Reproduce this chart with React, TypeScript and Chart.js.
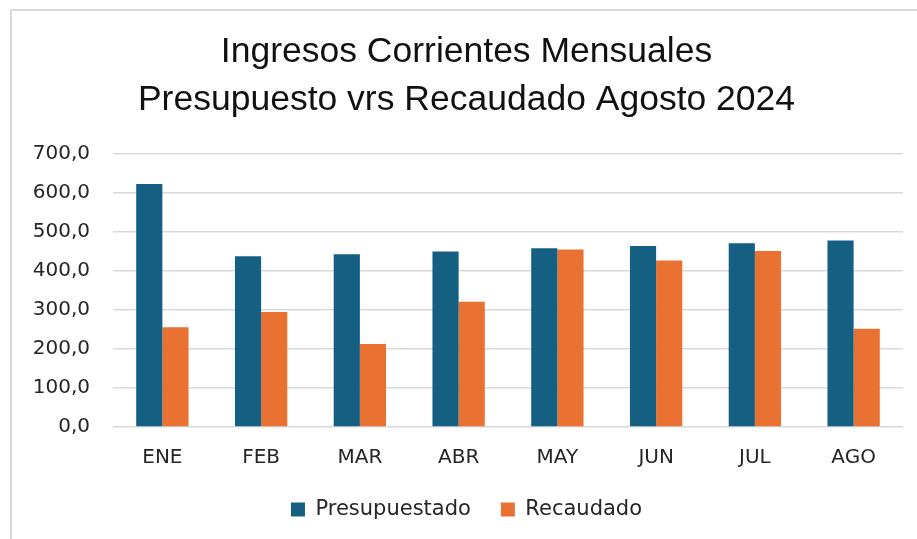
import React, { useEffect, useRef } from "react";
import { Chart, registerables } from "chart.js";

Chart.register(...registerables);

const categories = ["ENE", "FEB", "MAR", "ABR", "MAY", "JUN", "JUL", "AGO"];
const presupuestado = [623, 438, 443, 450, 458, 464, 471, 478];
const recaudado = [256, 295, 213, 321, 455, 427, 451, 252];
const titleLines = ["Ingresos Corrientes Mensuales", "Presupuesto vrs Recaudado Agosto 2024"];
const seriesNames = ["Presupuestado", "Recaudado"];

export default function App() {
  const ref = useRef<HTMLCanvasElement | null>(null);
  useEffect(() => {
    if (!ref.current) return;
    const chart = new Chart(ref.current, {
      type: "bar",
      data: {
        labels: categories,
        datasets: [
          {
            label: seriesNames[0],
            data: presupuestado,
            backgroundColor: "#156082",
            categoryPercentage: 0.53,
            barPercentage: 1,
          },
          {
            label: seriesNames[1],
            data: recaudado,
            backgroundColor: "#E97132",
            categoryPercentage: 0.53,
            barPercentage: 1,
          },
        ],
      },
      options: {
        responsive: false,
        animation: false,
        layout: { padding: { left: 30, right: 14, top: 0, bottom: 9 } },
        plugins: {
          title: {
            display: true,
            text: titleLines,
            color: "#111111",
            font: { family: "'Liberation Sans', Arial, sans-serif", size: 35.5, weight: "normal", lineHeight: 1.352 },
            padding: { top: 28, bottom: 30 },
          },
          legend: {
            position: "bottom",
            labels: {
              boxWidth: 14,
              boxHeight: 14,
              padding: 30,
              color: "#262626",
              font: { family: "'DejaVu Sans', sans-serif", size: 21 },
            },
          },
          tooltip: { enabled: false },
        },
        scales: {
          x: {
            afterFit: (s: any) => {
              s.height = 42;
            },
            grid: { display: false, drawTicks: false },
            border: { display: false },
            ticks: {
              color: "#262626",
              padding: 19,
              font: { family: "'DejaVu Sans', sans-serif", size: 20 },
            },
          },
          y: {
            min: 0,
            max: 700,
            afterFit: (s: any) => {
              s.width = 83;
            },
            border: { display: false },
            grid: { color: "#d9d9d9", lineWidth: 1.5, drawTicks: false },
            ticks: {
              stepSize: 100,
              padding: 23,
              color: "#262626",
              font: { family: "'DejaVu Sans', sans-serif", size: 20 },
              callback: (v: any) => Number(v).toFixed(1).replace(".", ","),
            },
          },
        },
      },
    });
    return () => chart.destroy();
  }, []);
  return (
    <div style={{ position: "absolute", left: 0, top: 0, width: 917, height: 539, background: "#fff" }}>
      <div
        style={{
          position: "absolute",
          left: 10,
          top: 9,
          right: 0,
          bottom: 0,
          borderTop: "2px solid #d9d9d9",
          borderLeft: "2px solid #d9d9d9",
        }}
      />
      <canvas ref={ref} width={917} height={539} style={{ position: "absolute", left: 0, top: 0 }} />
    </div>
  );
}
